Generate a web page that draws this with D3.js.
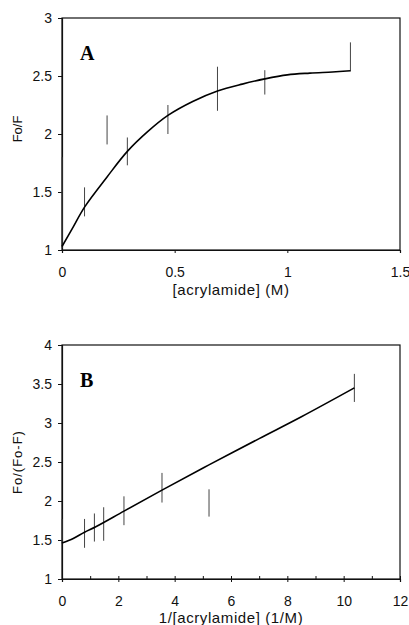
<!DOCTYPE html>
<html>
<head>
<style>
  body { margin: 0; background: #fff; }
  svg text { font-family: "Liberation Sans", Arial, sans-serif; }
</style>
</head>
<body>
<div id="chart"></div>
<script src="https://d3js.org/d3.v7.min.js"></script>
<script>
// panel A: Fo/F vs [acrylamide]
const aBarX = [0, 0.1, 0.2, 0.29, 0.47, 0.69, 0.9, 1.28]
const aBarLow = [1.02, 1.29, 1.91, 1.73, 2.0, 2.2, 2.34, 2.54]
const aBarHigh = [1.8, 1.54, 2.16, 1.97, 2.25, 2.58, 2.55, 2.79]
const aFitX = [0, 0.05, 0.1, 0.2, 0.29, 0.38, 0.47, 0.58, 0.69, 0.8, 0.9, 1.0, 1.1, 1.2, 1.28]
const aFitY = [1.03, 1.2, 1.37, 1.63, 1.85, 2.02, 2.16, 2.28, 2.37, 2.43, 2.475, 2.51, 2.525, 2.535, 2.545]
const aXTicks = [0, 0.5, 1, 1.5]
const aYTicks = [1, 1.5, 2, 2.5, 3]

// panel B: Fo/(Fo-F) vs 1/[acrylamide]
const bBarX = [0, 0.8, 1.15, 1.48, 2.2, 3.55, 5.22, 10.38]
const bBarLow = [1.45, 1.4, 1.48, 1.49, 1.69, 1.98, 1.8, 3.27]
const bBarHigh = [1.77, 1.77, 1.84, 1.92, 2.06, 2.36, 2.15, 3.63]
const bFitX = [0, 0.4, 0.8, 1.2, 2.2, 3.55, 5.2, 7, 8.5, 10.38]
const bFitY = [1.46, 1.52, 1.6, 1.67, 1.87, 2.14, 2.46, 2.8, 3.08, 3.45]
const bXTicks = [0, 2, 4, 6, 8, 10, 12]
const bXMinor = [0, 1, 2, 3, 4, 5, 6, 7, 8, 9, 10, 11, 12]
const bYTicks = [1, 1.5, 2, 2.5, 3, 3.5, 4]

const width = 409, height = 625
const svg = d3.select("#chart").append("svg").attr("width", width).attr("height", height)

const drawPanel = (cfg) => {
  const x = d3.scaleLinear().domain(cfg.xDomain).range([62, 400])
  const y = d3.scaleLinear().domain(cfg.yDomain).range([cfg.bottom, cfg.top])
  const g = svg.append("g")

  // frame
  g.append("rect")
    .attr("x", 62).attr("y", cfg.top)
    .attr("width", 338).attr("height", cfg.bottom - cfg.top)
    .attr("fill", "none").attr("stroke", "#111").attr("stroke-width", 1.2)

  g.append("g")
    .attr("transform", "translate(62,0)")
    .call(d3.axisLeft(y).tickValues(cfg.yTicks).tickSize(4).tickPadding(6)
      .tickFormat(d3.format("")))
  g.append("g")
    .attr("transform", "translate(0," + cfg.bottom + ")")
    .call(d3.axisBottom(x).tickValues(cfg.xTicks).tickSize(3).tickPadding(14)
      .tickFormat(d3.format("")))
  if (cfg.xMinor) {
    g.append("g")
      .attr("transform", "translate(0," + cfg.bottom + ")")
      .call(d3.axisBottom(x).tickValues(cfg.xMinor).tickSize(-3).tickFormat(""))
      .call(s => s.select(".domain").remove())
  }
  g.selectAll(".domain").attr("stroke", "#111").attr("stroke-width", 1.2)
  g.selectAll(".tick line").attr("stroke", "#111")
  g.selectAll(".tick text").attr("font-size", 14).attr("fill", "#111")

  // error bars
  g.selectAll(".err")
    .data(cfg.barX)
    .enter()
    .append("line")
    .attr("class", "err")
    .attr("x1", d => x(d)).attr("x2", d => x(d))
    .attr("y1", (d, i) => y(cfg.barLow[i]))
    .attr("y2", (d, i) => y(cfg.barHigh[i]))
    .attr("stroke", "#444").attr("stroke-width", 1)

  // fitted curve
  const line = d3.line()
    .x(d => x(d[0])).y(d => y(d[1]))
    .curve(d3.curveCatmullRom)
  g.append("path")
    .datum(cfg.fitX.map((v, i) => [v, cfg.fitY[i]]))
    .attr("d", line)
    .attr("fill", "none").attr("stroke", "#000").attr("stroke-width", 1.6)

  // panel letter
  g.append("text")
    .attr("x", 80).attr("y", cfg.letterY)
    .style("font-family", "'Liberation Serif', 'Times New Roman', serif")
    .attr("font-weight", "bold").attr("font-size", 20)
    .text(cfg.letter)

  // axis titles
  g.append("text")
    .attr("x", 231).attr("y", cfg.xTitleY)
    .attr("text-anchor", "middle").attr("font-size", 15).attr("fill", "#111")
    .attr("letter-spacing", 0.6)
    .text(cfg.xTitle)
  g.append("text")
    .attr("transform", "translate(22," + cfg.yTitleMid + ") rotate(-90)")
    .attr("text-anchor", "middle").attr("font-size", 13).attr("fill", "#111")
    .attr("letter-spacing", cfg.yTitleSpacing)
    .text(cfg.yTitle)
}

drawPanel({
  xDomain: [0, 1.5], yDomain: [1, 3], top: 18, bottom: 250,
  xTicks: aXTicks, yTicks: aYTicks,
  barX: aBarX, barLow: aBarLow, barHigh: aBarHigh,
  fitX: aFitX, fitY: aFitY,
  letter: "A", letterY: 60,
  xTitle: "[acrylamide] (M)", xTitleY: 295,
  yTitle: "Fo/F", yTitleMid: 129, yTitleSpacing: 0
})

drawPanel({
  xDomain: [0, 12], yDomain: [1, 4], top: 345, bottom: 579,
  xTicks: bXTicks, xMinor: bXMinor, yTicks: bYTicks,
  barX: bBarX, barLow: bBarLow, barHigh: bBarHigh,
  fitX: bFitX, fitY: bFitY,
  letter: "B", letterY: 387,
  xTitle: "1/[acrylamide] (1/M)", xTitleY: 623,
  yTitle: "Fo/(Fo-F)", yTitleMid: 462, yTitleSpacing: 1
})
</script>
</body>
</html>
